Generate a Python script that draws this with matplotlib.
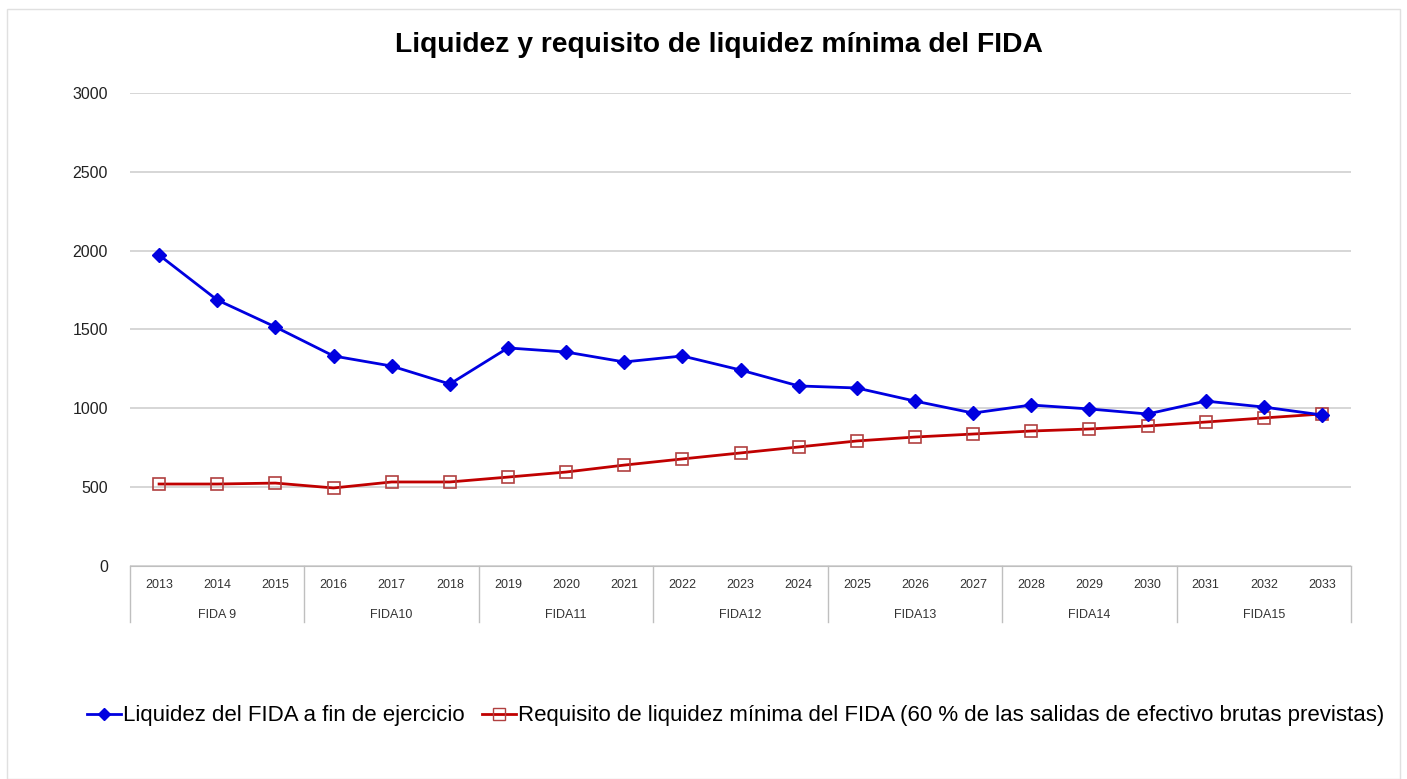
import matplotlib.pyplot as plt
from matplotlib.lines import Line2D
from matplotlib.patches import Rectangle

plt.rcParams['font.family'] = ['Liberation Sans', 'DejaVu Sans']

# data
years = ['2013', '2014', '2015', '2016', '2017', '2018', '2019', '2020', '2021', '2022', '2023',
         '2024', '2025', '2026', '2027', '2028', '2029', '2030', '2031', '2032', '2033']
groups = ['FIDA 9', 'FIDA10', 'FIDA11', 'FIDA12', 'FIDA13', 'FIDA14', 'FIDA15']
years_per_group = 3

liquidez = [1972, 1687, 1516, 1332, 1268, 1154, 1383, 1357, 1294, 1332, 1243,
            1142, 1129, 1046, 970, 1021, 996, 964, 1046, 1008, 958]
requisito = [520, 520, 526, 495, 533, 533, 564, 596, 640, 679, 717,
             755, 793, 818, 837, 856, 869, 888, 913, 939, 964]

lab_liq = 'Liquidez del FIDA a fin de ejercicio'
lab_req = 'Requisito de liquidez mínima del FIDA (60 % de las salidas de efectivo brutas previstas)'

fig = plt.figure(figsize=(14.07, 7.79), dpi=100)
ax = fig.add_axes([0.0924, 0.2734, 0.8678, 0.6073])

x = list(range(len(years)))
ax.plot(x, requisito, color='#C00000', linewidth=2, marker='s', markersize=9,
        markerfacecolor='none', markeredgecolor='#B04040', markeredgewidth=1.2, zorder=3)
ax.plot(x, liquidez, color='#0000E0', linewidth=2, marker='D', markersize=7,
        markerfacecolor='#0000E0', markeredgecolor='#0000E0', zorder=4)

ax.set_xlim(-0.5, len(years) - 0.5)
ax.set_ylim(0, 3000)
ax.set_yticks(range(0, 3001, 500))
ax.tick_params(axis='y', length=0, pad=16, labelsize=11.5, labelcolor='#222222')
ax.grid(axis='y', color='#CFCFCF', linewidth=1.2)
ax.set_axisbelow(True)
for s in ['left', 'right', 'top']:
    ax.spines[s].set_visible(False)
ax.spines['bottom'].set_color('#BFBFBF')

# multi-level category axis
ax.set_xticks(x)
ax.set_xticklabels(years, fontsize=9, color='#333333')
ax.tick_params(axis='x', length=0, pad=9)
trans = ax.get_xaxis_transform()
for g in range(len(groups) + 1):
    xb = g * years_per_group - 0.5
    ax.plot([xb, xb], [0, -0.118], transform=trans, color='#BFBFBF', linewidth=1, clip_on=False)
for g, name in enumerate(groups):
    xc = g * years_per_group + (years_per_group - 1) / 2
    ax.text(xc, -0.103, name, transform=trans, ha='center', va='center',
            fontsize=9, color='#333333')

fig.suptitle('Liquidez y requisito de liquidez mínima del FIDA', x=0.511, y=0.942,
             fontsize=20.3, fontweight='bold', va='center')

handles = [
    Line2D([], [], color='#0000E0', linewidth=2, marker='D', markersize=6,
           markerfacecolor='#0000E0'),
    Line2D([], [], color='#C00000', linewidth=2, marker='s', markersize=8,
           markerfacecolor='none', markeredgecolor='#B04040'),
]
fig.legend(handles, [lab_liq, lab_req], loc='center', bbox_to_anchor=(0.523, 0.081),
           ncol=2, frameon=False, fontsize=16, handlelength=1.5, handletextpad=0.1,
           columnspacing=0.8)

fig.patches.append(Rectangle((0.005, 0.0), 0.99, 0.988, transform=fig.transFigure,
                             fill=False, edgecolor='#E0E0E0', linewidth=1))

fig.savefig('out.png', dpi=100)
